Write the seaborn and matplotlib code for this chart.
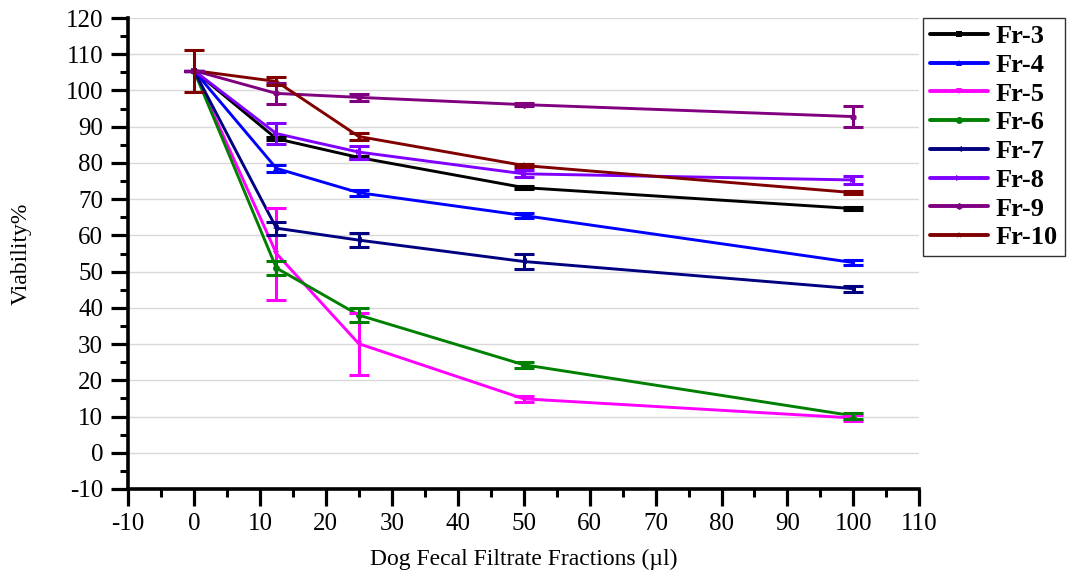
import numpy as np
import pandas as pd
import matplotlib
matplotlib.use("Agg")
import matplotlib.pyplot as plt
from matplotlib.ticker import MultipleLocator
import seaborn as sns

# ---- data ----
x_vals = [0, 12.5, 25, 50, 100]
series_names = ["Fr-3", "Fr-4", "Fr-5", "Fr-6", "Fr-7", "Fr-8", "Fr-9", "Fr-10"]
fr3 = [105.5, 86.7, 81.5, 73.2, 67.4]
fr4 = [105.5, 78.5, 71.8, 65.5, 52.5]
fr5 = [105.5, 55.0, 30.1, 14.9, 9.6]
fr6 = [105.5, 51.0, 38.0, 24.3, 10.2]
fr7 = [105.5, 62.0, 58.7, 52.8, 45.3]
fr8 = [105.5, 88.1, 83.0, 77.0, 75.3]
fr9 = [105.5, 99.2, 98.1, 96.1, 92.8]
fr10 = [105.5, 102.5, 87.3, 79.3, 71.8]
err3 = [0, 0.5, 0.5, 0.4, 0.4]
err4 = [0, 1.0, 0.8, 0.8, 0.8]
err5 = [0, 12.7, 8.5, 0.8, 0.8]
err6 = [0, 2.0, 2.0, 0.8, 0.8]
err7 = [0, 1.8, 2.0, 2.2, 0.8]
err8 = [0, 2.8, 1.8, 1.0, 1.0]
err9 = [0, 2.8, 1.0, 0.5, 3.0]
err10 = [5.8, 1.1, 1.0, 0.5, 0.5]
x_ticks = list(range(-10, 111, 10))
y_ticks = list(range(-10, 121, 10))

values = [fr3, fr4, fr5, fr6, fr7, fr8, fr9, fr10]
errors = [err3, err4, err5, err6, err7, err8, err9, err10]
colors = ["#000000", "#0000FF", "#FF00FF", "#008000", "#000080", "#8000FF", "#800080", "#800000"]
markers = ["s", "^", "v", "o", "<", ">", "h", "*"]

rows = []
for name, vals in zip(series_names, values):
    for xv, yv in zip(x_vals, vals):
        rows.append({"x": xv, "y": yv, "series": name})
df = pd.DataFrame(rows)

sns.set_style("white")
plt.rcParams["font.family"] = ["Liberation Serif", "DejaVu Serif"]
plt.rcParams["axes.unicode_minus"] = False
plt.rcParams["text.color"] = "black"
plt.rcParams["axes.labelcolor"] = "black"

fig = plt.figure(figsize=(10.73, 5.80), dpi=100)
ax = fig.add_axes([0.1193, 0.1569, 0.7375, 0.812])

# grid
ax.set_axisbelow(True)
ax.yaxis.grid(True, color="#d9d9d9", linewidth=1.0)
ax.xaxis.grid(False)

palette = dict(zip(series_names, colors))
marker_map = dict(zip(series_names, markers))
sns.lineplot(data=df, x="x", y="y", hue="series", style="series",
             hue_order=series_names, style_order=series_names,
             palette=palette, markers=marker_map, dashes=False,
             markersize=5, linewidth=2.1, markeredgewidth=0,
             ax=ax, legend=True, zorder=3)

for vals, errs, c in zip(values, errors, colors):
    ax.errorbar(x_vals, vals, yerr=errs, fmt="none", ecolor=c,
                elinewidth=2.2, capsize=7, capthick=2.2, zorder=4)

ax.set_xlim(-10, 110)
ax.set_ylim(-10, 120)
ax.set_xticks(x_ticks)
ax.set_yticks(y_ticks)
ax.xaxis.set_minor_locator(MultipleLocator(5))
ax.yaxis.set_minor_locator(MultipleLocator(5))
ax.tick_params(axis="both", which="both", bottom=True, left=True, top=False, right=False)
ax.tick_params(axis="both", which="major", direction="out", length=12, width=2.3,
               labelsize=18, color="black", labelcolor="black")
ax.tick_params(axis="both", which="minor", direction="out", length=6, width=2.2,
               color="black")
ax.tick_params(axis="x", which="major", pad=5)
ax.tick_params(axis="y", which="major", pad=6)

for s in ["top", "right"]:
    ax.spines[s].set_visible(False)
for s in ["left", "bottom"]:
    ax.spines[s].set_visible(True)
    ax.spines[s].set_color("black")
    ax.spines[s].set_linewidth(2.6)

ax.set_xlabel("Dog Fecal Filtrate Fractions (µl)", fontsize=17, labelpad=10)
ax.set_ylabel("Viability%", fontsize=17, labelpad=24)

handles, labels = ax.get_legend_handles_labels()
leg = ax.legend(handles, labels, loc="upper left", bbox_to_anchor=(1.005, 1.0),
                frameon=True, fancybox=False, edgecolor="black",
                prop={"weight": "bold", "size": 19}, handlelength=2.2,
                handletextpad=0.3, labelspacing=0.2, borderpad=0.25,
                borderaxespad=0.0)
leg.get_frame().set_linewidth(1.0)
for line in leg.get_lines():
    line.set_linewidth(2.8)

fig.savefig("out.png", dpi=100)
